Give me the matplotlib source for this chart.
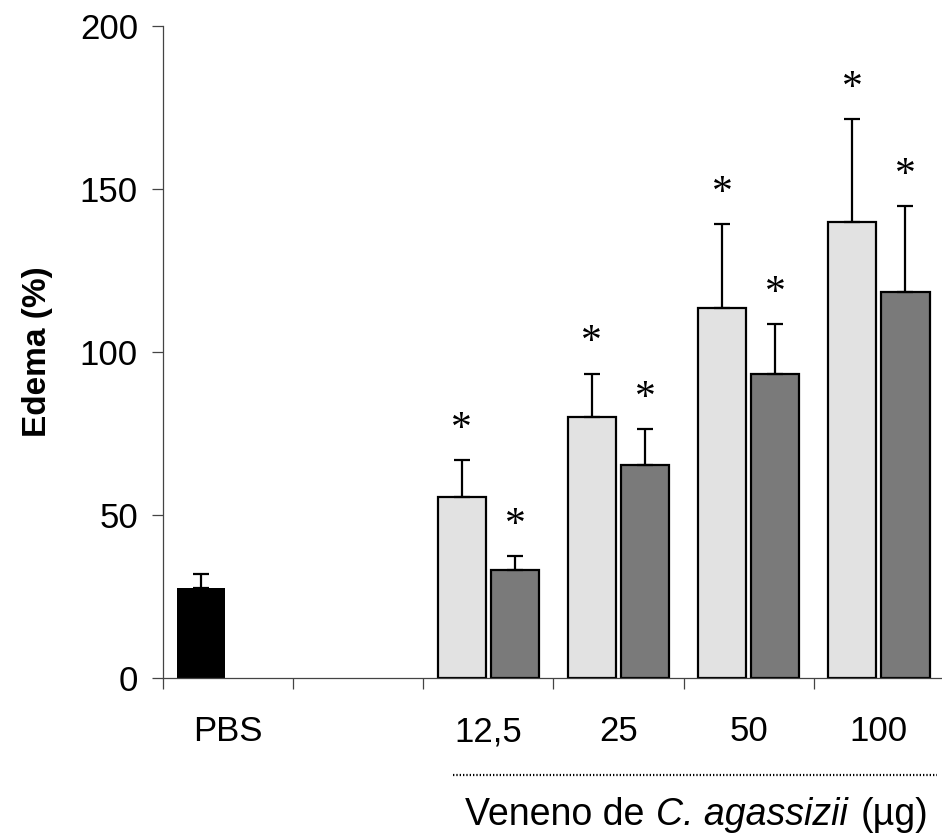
#!/usr/bin/env python3

import matplotlib
matplotlib.use('Agg')
from matplotlib import pyplot as plt
from matplotlib import transforms
from matplotlib.offsetbox import TextArea, HPacker, AnnotationBbox
import numpy as np

# edema (%) after injection; PBS control and two series per venom dose
CATEGORIES = ['PBS', '', '12,5', '25', '50', '100']
PBS_MEAN = 27.6
PBS_ERR = 4.3
DOSE_POS = [2, 3, 4, 5]
SERIES_A = [55.5, 79.9, 113.5, 139.9]
SERIES_A_ERR = [11.4, 13.4, 25.8, 31.6]
SERIES_B = [33.1, 65.3, 93.3, 118.4]
SERIES_B_ERR = [4.3, 11.1, 15.3, 26.4]
STAR = '*'

COLOR_A = '#e2e2e2'
COLOR_B = '#7a7a7a'
BAR_W = 0.37
OFFSET = 0.205

plt.rcParams['font.family'] = ['Liberation Sans', 'DejaVu Sans']

fig = plt.figure(figsize=(9.42, 8.39), dpi=100)
ax = fig.add_axes([0.173, 0.192, 0.829, 0.777])

err_kw = dict(ecolor='black', elinewidth=1.6, capsize=6, capthick=1.6)

# control bar
x_pbs = 0 + 0.5 - OFFSET
ax.bar(x_pbs, PBS_MEAN, BAR_W, color='black', linewidth=0,
       yerr=[[0], [PBS_ERR]], error_kw=err_kw, zorder=2)

xa = np.array(DOSE_POS) + 0.5 - OFFSET
xb = np.array(DOSE_POS) + 0.5 + OFFSET
ax.bar(xa, SERIES_A, BAR_W, color=COLOR_A, edgecolor='black', linewidth=1.6,
       yerr=[np.zeros(4), SERIES_A_ERR], error_kw=err_kw, zorder=2)
ax.bar(xb, SERIES_B, BAR_W, color=COLOR_B, edgecolor='black', linewidth=1.6,
       yerr=[np.zeros(4), SERIES_B_ERR], error_kw=err_kw, zorder=2)

# significance marks over the error caps
for xs, vals, errs in ((xa, SERIES_A, SERIES_A_ERR), (xb, SERIES_B, SERIES_B_ERR)):
    for x, v, e in zip(xs, vals, errs):
        ax.annotate(STAR, (x, v + e), xytext=(0, 22), textcoords='offset points',
                    ha='center', va='center', fontsize=30,
                    family='Liberation Serif')

ax.set_xlim(0, 6)
ax.set_ylim(0, 200)
ax.set_yticks([0, 50, 100, 150, 200])
ax.set_xticks(np.arange(0, 7))
ax.set_xticklabels([])

for side in ('top', 'right'):
    ax.spines[side].set_visible(False)
for side in ('left', 'bottom'):
    ax.spines[side].set_color('#444444')
    ax.spines[side].set_linewidth(0.9)

ax.tick_params(axis='both', which='major', direction='out', length=8,
               width=0.9, color='#444444', labelsize=25, pad=10)

ax.set_ylabel('Edema (%)', fontsize=24, fontweight='bold', labelpad=19)

# category names centred between the boundary ticks, on a common baseline
trans = transforms.blended_transform_factory(ax.transData, ax.transAxes)
for i, name in enumerate(CATEGORIES):
    ax.text(i + 0.5, -0.097, name, transform=trans, ha='center',
            va='baseline', fontsize=25)

# dose group bracket and caption
ax.plot([2.23, 5.95], [-0.149, -0.149], transform=trans, clip_on=False,
        color='black', linewidth=1.6, linestyle=(0, (0.6, 0.9)))

cap_size = 27
parts = [
    TextArea('Veneno de', textprops=dict(fontsize=cap_size)),
    TextArea('C. agassizii', textprops=dict(fontsize=cap_size, style='italic')),
    TextArea('(µg)', textprops=dict(fontsize=cap_size)),
]
caption = HPacker(children=parts, sep=9, pad=0, align='baseline')
ab = AnnotationBbox(caption, (4.1, -0.21), xycoords=trans, frameon=False,
                    box_alignment=(0.5, 0.5), annotation_clip=False)
ax.add_artist(ab)

fig.savefig('out.png', dpi=100)
